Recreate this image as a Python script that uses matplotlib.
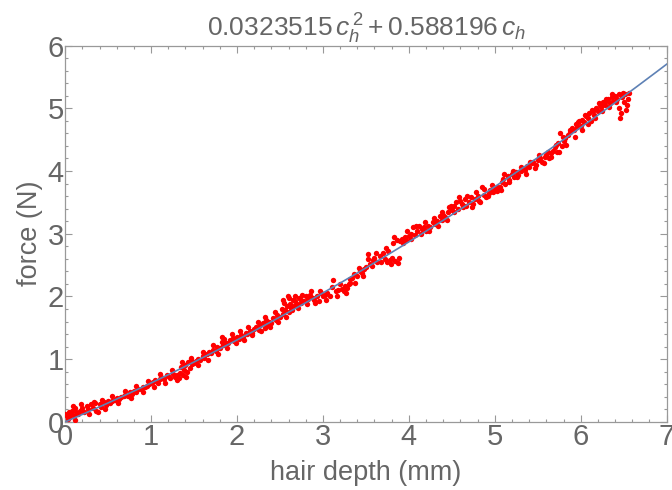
import numpy as np
import matplotlib
matplotlib.use("Agg")
import matplotlib.pyplot as plt
from matplotlib.ticker import MultipleLocator

# ── Fit coefficients (from title) ─────────────────────────────────────────────
A2 = 0.0323515
A1 = 0.588196

depth = [
    0.0, 0.02, 0.04, 0.05, 0.07, 0.08, 0.1, 0.11, 0.13, 0.15, 0.17, 0.2, 0.22,
    0.25, 0.27, 0.3, 0.32, 0.35, 0.38, 0.4, 0.42, 0.45, 0.47, 0.5,
    0.52, 0.55, 0.58, 0.6, 0.63, 0.65, 0.68, 0.7, 0.73, 0.75, 0.78, 0.8, 0.83,
    0.85, 0.88, 0.9, 0.93, 0.95, 0.98, 1.0,
    1.02, 1.05, 1.08, 1.1, 1.12, 1.15, 1.18, 1.2, 1.22, 1.25, 1.28, 1.3, 1.32,
    1.34, 1.35, 1.37, 1.38, 1.4, 1.42, 1.43, 1.45, 1.46, 1.48, 1.5,
    1.52, 1.55, 1.57, 1.6, 1.62, 1.65, 1.67, 1.7, 1.72, 1.75, 1.77, 1.8, 1.82,
    1.84, 1.85, 1.87, 1.9, 1.92, 1.95, 1.97, 2.0,
    2.02, 2.05, 2.07, 2.1, 2.12, 2.15, 2.17, 2.2, 2.22, 2.25, 2.27, 2.3, 2.32,
    2.34, 2.35, 2.37, 2.4, 2.42, 2.45, 2.47, 2.5,
    2.52, 2.54, 2.55, 2.56, 2.58, 2.59, 2.6, 2.62, 2.63, 2.65, 2.66, 2.68, 2.7,
    2.72, 2.74, 2.75, 2.78, 2.8, 2.83, 2.85, 2.88, 2.9, 2.93, 2.95, 2.98, 3.0,
    3.02, 3.05, 3.08, 3.12, 3.15, 3.18, 3.22, 3.24, 3.26, 3.28, 3.3, 3.32,
    3.34, 3.36, 3.4, 3.43, 3.46, 3.48, 3.5, 3.52, 3.55, 3.58, 3.6, 3.63,
    3.66, 3.7, 3.72, 3.75, 3.76, 3.78, 3.8, 3.82, 3.84, 3.86, 3.88, 3.9, 3.92,
    3.95, 3.97, 4.0, 4.02, 4.05, 4.07, 4.1, 4.12, 4.15, 4.18, 4.2,
    4.22, 4.25, 4.28, 4.3, 4.33, 4.36, 4.38, 4.4, 4.42, 4.45, 4.47, 4.5, 4.52,
    4.55, 4.57, 4.6, 4.62, 4.65, 4.67, 4.7, 4.72, 4.75, 4.77, 4.8, 4.82, 4.85,
    4.88, 4.9, 4.93, 4.95, 4.98, 5.0,
    5.03, 5.06, 5.08, 5.1, 5.12, 5.15, 5.17, 5.2, 5.22, 5.25, 5.27, 5.3, 5.32,
    5.35, 5.38, 5.4, 5.43, 5.45, 5.48, 5.5, 5.53, 5.55, 5.58, 5.6, 5.63,
    5.65, 5.68, 5.7, 5.72, 5.74, 5.76, 5.78, 5.8, 5.82, 5.85, 5.87, 5.9, 5.92,
    5.94, 5.96, 5.98, 6.0, 6.02, 6.04, 6.06, 6.08, 6.1, 6.12, 6.14, 6.16, 6.18,
    6.2, 6.22, 6.24, 6.26, 6.28, 6.3, 6.32, 6.34, 6.36, 6.38, 6.4, 6.42, 6.44,
    6.45, 6.47, 6.48, 6.5, 6.52, 6.54, 6.56,
]
force = [
    0.12, 0.10, 0.15, 0.08, 0.13, 0.18, 0.10, 0.22, 0.15, 0.12, 0.18, 0.22, 0.16,
    0.25, 0.20, 0.28, 0.22, 0.30, 0.15, 0.28, 0.24, 0.31, 0.27, 0.33,
    0.30, 0.33, 0.35, 0.38, 0.36, 0.40, 0.41, 0.43, 0.42, 0.47, 0.45, 0.50, 0.48,
    0.53, 0.52, 0.56, 0.55, 0.58, 0.60, 0.62,
    0.64, 0.66, 0.62, 0.69, 0.71, 0.68, 0.74, 0.73, 0.70, 0.76, 0.72, 0.75, 0.70,
    0.78, 0.88, 0.74, 0.83, 0.90, 0.79, 0.95, 0.86, 0.98, 0.92, 0.94,
    0.97, 1.00, 0.98, 1.05, 1.02, 1.08, 1.12, 1.10, 1.15, 1.13, 1.20, 1.18, 1.28,
    1.22, 1.32, 1.25, 1.26, 1.30, 1.33, 1.29, 1.35,
    1.32, 1.38, 1.35, 1.42, 1.40, 1.45, 1.41, 1.48, 1.52, 1.47, 1.55, 1.58, 1.50,
    1.62, 1.55, 1.60, 1.57, 1.65, 1.62, 1.70, 1.68,
    1.80, 1.72, 1.90, 1.78, 1.85, 2.00, 1.76, 1.88, 1.82, 1.95, 1.85, 1.92, 1.88,
    1.98, 1.90, 1.95, 1.93, 2.00, 1.96, 2.02, 1.98, 1.95, 2.00, 1.93, 2.05, 2.00,
    2.02, 2.05, 2.00, 2.26, 2.08, 2.10, 2.12, 2.08, 2.16, 2.14, 2.20, 2.22,
    2.30, 2.35, 2.32, 2.40, 2.38, 2.44, 2.47, 2.67, 2.52, 2.58, 2.62, 2.55,
    2.65, 2.70, 2.60, 2.55, 2.72, 2.58, 2.62, 2.85, 2.56, 2.90, 2.62, 2.88, 2.92,
    2.95, 2.90, 2.97, 3.00, 3.10, 2.98, 3.05, 3.12, 3.08, 3.10, 3.05,
    3.12, 3.10, 3.18, 3.15, 3.20, 3.28, 3.22, 3.30, 3.27, 3.35, 3.42, 3.38, 3.45,
    3.50, 3.40, 3.52, 3.48, 3.55, 3.45, 3.50, 3.58, 3.47, 3.55, 3.60, 3.52, 3.74,
    3.62, 3.58, 3.65, 3.70, 3.66, 3.72,
    3.68, 3.75, 3.82, 3.88, 3.80, 3.92, 3.85, 3.95, 3.90, 3.98, 3.94, 4.00, 4.05,
    4.02, 4.08, 4.06, 4.12, 4.15, 4.10, 4.18, 4.20, 4.14, 4.22, 4.25, 4.20,
    4.28, 4.32, 4.38, 4.30, 4.45, 4.60, 4.40, 4.48, 4.52, 4.58, 4.62, 4.68, 4.65,
    4.75, 4.70, 4.80, 4.72, 4.82, 4.78, 4.88, 4.85, 4.92, 4.80, 4.95, 4.90, 5.00,
    4.96, 5.05, 5.02, 5.10, 5.05, 5.12, 5.15, 5.08, 5.18, 5.12, 5.20, 5.15, 5.00,
    5.22, 4.92, 5.18, 5.10, 5.22, 5.05, 5.24,
]

# second pass: points off the main band, which widen the cloud
depth_b = [
    0.03, 0.09, 0.12, 0.18, 0.28, 0.33, 0.36, 0.43, 0.46,
    0.55, 0.62, 0.70, 0.77, 0.83, 0.90, 0.96,
    1.03, 1.10, 1.16, 1.24, 1.30, 1.36, 1.41, 1.47,
    1.55, 1.60, 1.66, 1.72, 1.78, 1.83, 1.88, 1.94, 1.99,
    2.04, 2.08, 2.13, 2.18, 2.24, 2.28, 2.33, 2.38, 2.44, 2.48,
    2.53, 2.57, 2.60, 2.64, 2.67, 2.71, 2.76, 2.81, 2.86, 2.91, 2.96,
    3.04, 3.10, 3.16, 3.20, 3.27, 3.31, 3.37, 3.42, 3.47, 3.53,
    3.57, 3.62, 3.68, 3.73, 3.79, 3.83, 3.87, 3.93, 3.98,
    4.03, 4.08, 4.14, 4.19, 4.24, 4.29, 4.34, 4.39, 4.44, 4.49,
    4.53, 4.58, 4.63, 4.68, 4.73, 4.78, 4.83, 4.87, 4.92, 4.97,
    5.02, 5.07, 5.11, 5.16, 5.21, 5.26, 5.31, 5.36, 5.41, 5.47, 5.52, 5.57, 5.62,
    5.66, 5.71, 5.75, 5.79, 5.83, 5.88, 5.93, 5.97, 6.01, 6.05, 6.09, 6.13,
    6.17, 6.21, 6.25, 6.29, 6.33, 6.37, 6.41, 6.46, 6.49, 6.53, 6.55,
]
force_b = [
    0.05, 0.25, 0.03, 0.28, 0.12, 0.32, 0.18, 0.35, 0.20,
    0.42, 0.30, 0.50, 0.38, 0.58, 0.47, 0.65,
    0.55, 0.76, 0.62, 0.82, 0.66, 0.95, 0.72, 1.02,
    0.90, 1.12, 0.98, 1.22, 1.08, 1.36, 1.18, 1.40, 1.25,
    1.45, 1.30, 1.52, 1.38, 1.60, 1.45, 1.68, 1.52, 1.75, 1.60,
    1.95, 1.68, 1.97, 1.78, 2.00, 1.82, 2.02, 1.88, 2.08, 1.90, 2.08,
    1.95, 2.15, 2.00, 2.20, 2.06, 2.28, 2.22, 2.45, 2.32, 2.60,
    2.48, 2.70, 2.55, 2.78, 2.52, 2.95, 2.54, 2.85, 3.05,
    2.92, 3.12, 3.00, 3.18, 3.05, 3.25, 3.12, 3.35, 3.22, 3.45,
    3.35, 3.58, 3.42, 3.60, 3.42, 3.66, 3.50, 3.72, 3.60, 3.78,
    3.75, 3.70, 3.95, 3.82, 4.00, 3.90, 4.06, 3.96, 4.15, 4.05, 4.25, 4.12, 4.30,
    4.22, 4.42, 4.30, 4.55, 4.42, 4.66, 4.55, 4.78, 4.65, 4.90, 4.75, 4.98,
    4.85, 5.08, 4.95, 5.15, 5.02, 5.22, 5.10, 4.85, 5.25, 4.98, 5.15,
]

# ── Styling ───────────────────────────────────────────────────────────────────
GRAY_TXT  = '#666666'
GRAY_AXIS = '#999999'
plt.rcParams['font.family'] = ['Liberation Sans', 'DejaVu Sans']
plt.rcParams['mathtext.fontset'] = 'custom'
plt.rcParams['mathtext.rm'] = 'Liberation Sans'
plt.rcParams['mathtext.it'] = 'Liberation Sans:italic'

fig = plt.figure(figsize=(6.72, 4.90), dpi=100)
ax = fig.add_axes([0.097, 0.139, 0.895, 0.768])

ax.scatter(depth + depth_b, force + force_b, s=15, color='#ff0000',
           linewidths=0, zorder=3)

x_fit = np.linspace(0, 7, 200)
ax.plot(x_fit, A2 * x_fit**2 + A1 * x_fit, color='#5e81b5', lw=1.2, zorder=4)

ax.set_xlim(0, 7)
ax.set_ylim(0, 6)
ax.xaxis.set_major_locator(MultipleLocator(1))
ax.yaxis.set_major_locator(MultipleLocator(1))
ax.xaxis.set_minor_locator(MultipleLocator(0.2))
ax.yaxis.set_minor_locator(MultipleLocator(0.2))

for sp in ax.spines.values():
    sp.set_color(GRAY_AXIS)
    sp.set_linewidth(0.9)

ax.tick_params(which='both', direction='in', top=True, right=True,
               color=GRAY_AXIS, width=0.8)
ax.tick_params(which='major', length=5, labelsize=21, labelcolor=GRAY_TXT, pad=1)
ax.tick_params(which='minor', length=2.5)

ax.set_xlabel('hair depth (mm)', fontsize=19.5, color=GRAY_TXT, labelpad=6)
ax.set_ylabel('force (N)', fontsize=19.5, color=GRAY_TXT, labelpad=3)
ax.set_title(r'$0.0323515\,c_h^{\,2}+0.588196\,c_h$', fontsize=19,
             color=GRAY_TXT, pad=5)

fig.savefig('out.png', dpi=100)
